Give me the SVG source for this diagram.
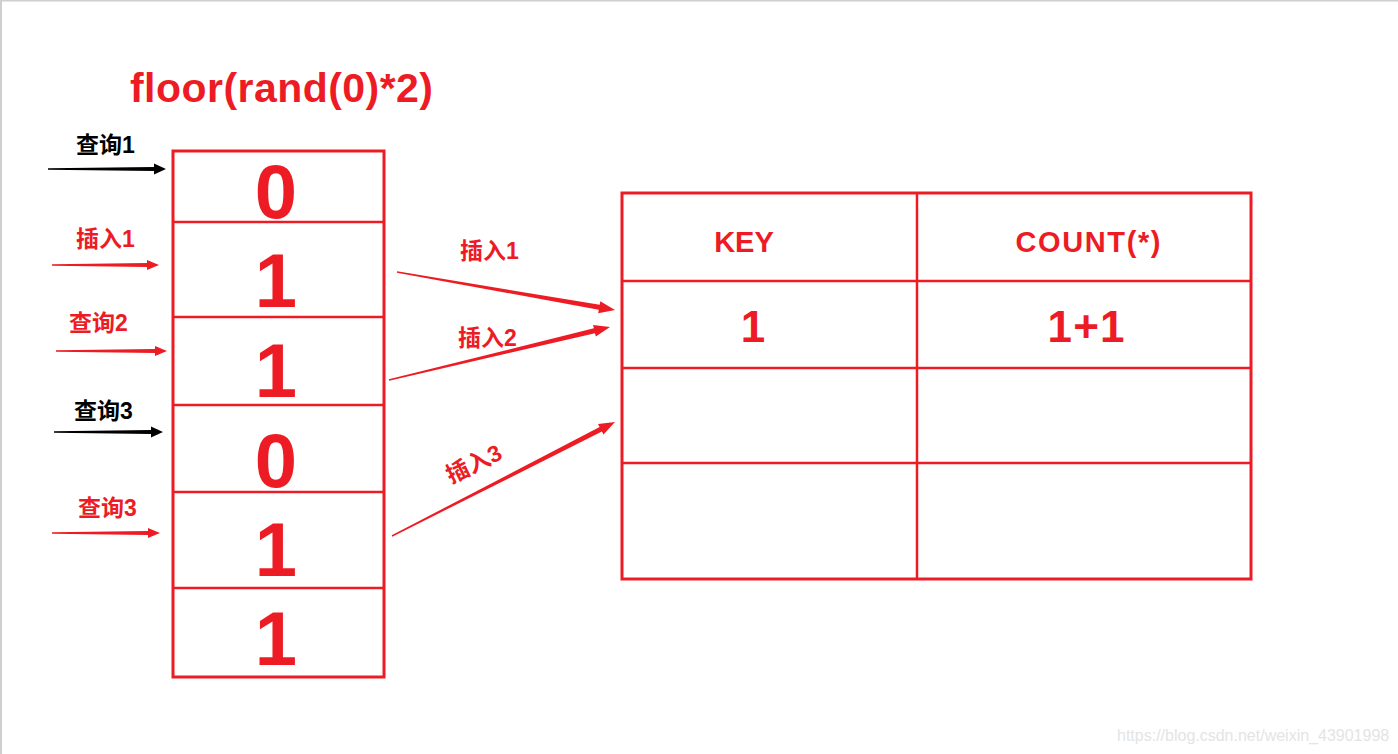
<svg xmlns="http://www.w3.org/2000/svg" width="1398" height="754" viewBox="0 0 1398 754">
<style>
.r{fill:#ED1C24}
.k{fill:#000}
.box{fill:#fff;stroke:#ED1C24;stroke-width:3}
.div{stroke:#ED1C24;stroke-width:2.5}
.t{font-family:"Liberation Sans","Noto Sans CJK SC",sans-serif;font-weight:bold}
.big{font-size:76px;text-anchor:middle}
.lbl{font-size:23px}
.hd{font-size:29px;text-anchor:middle}
.val{font-size:44px;text-anchor:middle}
</style>
<rect width="1398" height="754" fill="#fff"/>
<path d="M0 0.5H1398M1 0V754" stroke="#cfcfcf" stroke-width="2" fill="none"/>
<text class="t r" x="130" y="102" font-size="41" textLength="303">floor(rand(0)*2)</text>

<g id="column">
<rect class="box" x="173" y="151" width="211" height="526"/>
<path class="div" d="M173 222H384M173 317H384M173 405H384M173 492H384M173 588H384"/>
<text class="t r big" x="276" y="218">0</text>
<text class="t r big" x="276" y="307">1</text>
<text class="t r big" x="276" y="397">1</text>
<text class="t r big" x="276" y="487">0</text>
<text class="t r big" x="276" y="576">1</text>
<text class="t r big" x="276" y="665">1</text>
</g>

<g id="table">
<rect class="box" x="622" y="193" width="629" height="386"/>
<path class="div" d="M917 193V579M622 281H1251M622 368H1251M622 463H1251"/>
<text class="t r hd" x="744" y="252" font-size="27">KEY</text>
<text class="t r hd" x="1088" y="252" textLength="145">COUNT(*)</text>
<text class="t r val" x="753" y="342">1</text>
<text class="t r val" x="1086" y="342" textLength="77">1+1</text>
</g>

<g id="labels">
<text class="t k lbl" x="76" y="153">查询1</text>
<text class="t r lbl" x="76" y="247">插入1</text>
<text class="t r lbl" x="69" y="331">查询2</text>
<text class="t k lbl" x="74" y="419">查询3</text>
<text class="t r lbl" x="78" y="516">查询3</text>
<text class="t r lbl" x="460" y="259">插入1</text>
<text class="t r lbl" x="458" y="346">插入2</text>
<text class="t r lbl" x="0" y="0" transform="translate(451,484) rotate(-26)">插入3</text>
</g>

<g id="connectors">
<polygon class="k" points="48,168.3 154,167 154,163.5 166,169 154,174.5 154,171 48,169.7"/>
<polygon class="r" points="52,264.3 147,263 147,260 159,265 147,270 147,267 52,265.7"/>
<polygon class="r" points="56,350.3 155,349 155,346 167,351 155,356 155,353 56,351.7"/>
<polygon class="k" points="54,431.3 151,430 151,426.5 163,432 151,437.5 151,434 54,432.7"/>
<polygon class="r" points="52,532.3 148,531 148,528 160,533 148,538 148,535 52,533.7"/>
<polygon class="r" points="397.1,271.3 599.7,304.8 600.3,301.3 615,310 598.2,313.2 598.8,309.7 396.9,272.7"/>
<polygon class="r" points="388.8,379.3 593.9,328.3 593.0,324.9 610,327 595.8,336.6 595.0,333.2 389.2,380.7"/>
<polygon class="r" points="391.7,535.3 599.6,427.1 598.0,423.9 615,422 603.5,434.6 601.9,431.5 392.3,536.7"/>
</g>

<text x="1117" y="741" font-family="Liberation Sans, sans-serif" font-size="16" fill="#e4e4e4">https://blog.csdn.net/weixin_43901998</text>
</svg>
